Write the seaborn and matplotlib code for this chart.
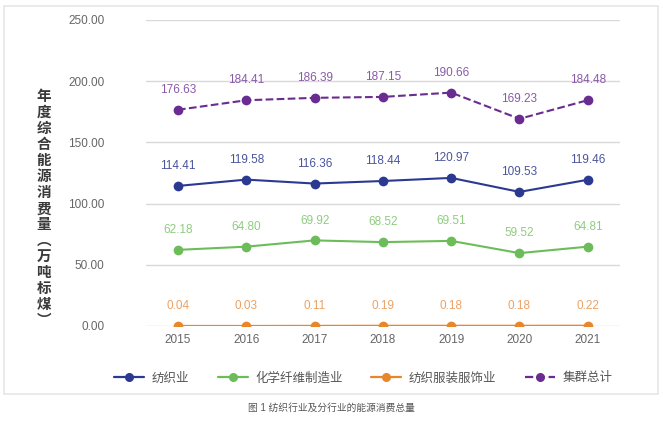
import matplotlib
matplotlib.use("Agg")
import matplotlib.pyplot as plt
import matplotlib.patches as mpatches
from matplotlib.lines import Line2D
import pandas as pd
import seaborn as sns

years = ["2015", "2016", "2017", "2018", "2019", "2020", "2021"]
textile = [114.41, 119.58, 116.36, 118.44, 120.97, 109.53, 119.46]
chem_fiber = [62.18, 64.80, 69.92, 68.52, 69.51, 59.52, 64.81]
apparel = [0.04, 0.03, 0.11, 0.19, 0.18, 0.18, 0.22]
cluster_total = [176.63, 184.41, 186.39, 187.15, 190.66, 169.23, 184.48]

names = ["纺织业", "化学纤维制造业", "纺织服装服饰业", "集群总计"]
colors = ["#2b3990", "#6cbd5a", "#e8862a", "#6a2c91"]
label_colors = ["#4a559c", "#8fcc80", "#eba266", "#8a5aa8"]
yticks = [0, 50, 100, 150, 200, 250]

sns.set_theme(style="white")
plt.rcParams["font.family"] = ["Liberation Sans", "Noto Sans CJK SC", "DejaVu Sans"]

fig = plt.figure(figsize=(6.63, 4.25), dpi=100)
ax = fig.add_axes([0.220, 0.233, 0.715, 0.720])

series = [textile, chem_fiber, apparel, cluster_total]
x = list(range(len(years)))
for vals, name, c, lc in zip(series, names, colors, label_colors):
    df = pd.DataFrame({"x": x, "y": vals})
    ls = "--" if name == "集群总计" else "-"
    sns.lineplot(data=df, x="x", y="y", ax=ax, color=c, linewidth=1.5,
                 linestyle=ls, marker="o", markersize=7,
                 markeredgewidth=0, zorder=3)
    for xi, v in zip(x, vals):
        ax.annotate(f"{v:.2f}", (xi, v), xytext=(0, 10), textcoords="offset points",
                    ha="center", va="bottom", fontsize=8.5, color=lc)

ax.set_xlim(-0.47, 6.47)
ax.set_ylim(0, 250)
ax.set_yticks(yticks)
ax.set_yticklabels([f"{t:.2f}" for t in yticks])
ax.set_xticks(x)
ax.set_xticklabels(years)
ax.tick_params(axis="both", labelsize=8.5, labelcolor="#666666", length=0)
ax.tick_params(axis="y", pad=30)
ax.tick_params(axis="x", pad=6)
ax.grid(axis="y", color="#d9d9d9", linewidth=1)
for s in ax.spines.values():
    s.set_visible(False)
ax.set_xlabel("")
ax.set_ylabel("")

ylab = "年度综合能源消费量︵万吨标煤︶"
fig.text(0.066, 0.51, "\n".join(ylab), ha="center", va="center",
         fontsize=10.5, fontweight="bold", color="#3a3a3a", linespacing=1.0,
         family=["Noto Sans CJK SC", "DejaVu Sans"])

handles = []
for name, c in zip(names, colors):
    ls = "--" if name == "集群总计" else "-"
    handles.append(Line2D([0], [0], color=c, linestyle=ls, linewidth=1.6,
                          marker="o", markersize=6.5, markeredgewidth=0))
fig.legend(handles, names, loc="center", bbox_to_anchor=(0.548, 0.11), ncol=4,
           frameon=False, fontsize=9, handlelength=2.4, handletextpad=0.6,
           columnspacing=2.3, labelcolor="#555555")

border = mpatches.Rectangle((0.006, 0.072), 0.987, 0.915, transform=fig.transFigure,
                            fill=False, edgecolor="#e6e6e6", linewidth=1.2)
fig.add_artist(border)
fig.text(0.5, 0.04, "图 1 纺织行业及分行业的能源消费总量", ha="center", va="center",
         fontsize=7, color="#555555")

fig.savefig("out.png", dpi=100)
